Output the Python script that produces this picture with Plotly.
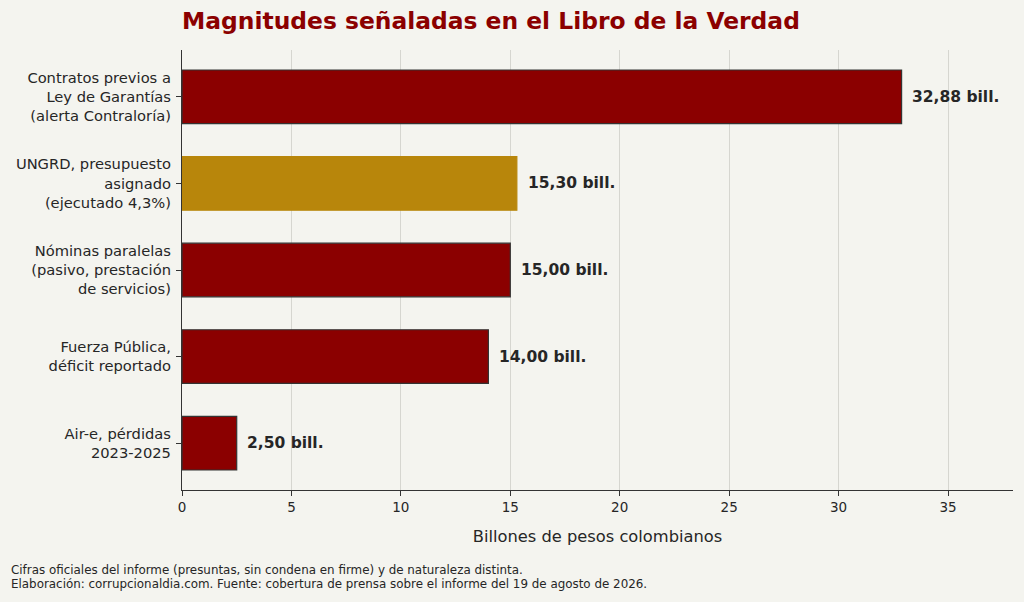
import plotly.graph_objects as go

# data, top to bottom as in the chart
categories = [
    "Contratos previos a<br>Ley de Garantías<br>(alerta Contraloría)",
    "UNGRD, presupuesto<br>asignado<br>(ejecutado 4,3%)",
    "Nóminas paralelas<br>(pasivo, prestación<br>de servicios)",
    "Fuerza Pública,<br>déficit reportado",
    "Air-e, pérdidas<br>2023-2025",
]
values = [32.88, 15.30, 15.00, 14.00, 2.50]
value_labels = ["32,88 bill.", "15,30 bill.", "15,00 bill.", "14,00 bill.", "2,50 bill."]
highlight = [False, True, False, False, False]
notes = [
    "Cifras oficiales del informe (presuntas, sin condena en firme) y de naturaleza distinta.",
    "Elaboración: corrupcionaldia.com. Fuente: cobertura de prensa sobre el informe del 19 de agosto de 2026.",
]

RED = "#8b0000"
GOLD = "#b8860b"
BG = "#f4f4ef"
INK = "#262626"
FONT = "DejaVu Sans"

# plot area in pixels (matches the reference axes box)
L, R, T, B = 182, 1013, 50, 490

colors = [GOLD if h else RED for h in highlight]
edges = [GOLD if h else "#333333" for h in highlight]

fig = go.Figure()
fig.add_trace(go.Bar(
    y=list(range(len(categories))), x=values, orientation="h", width=0.62,
    marker=dict(color=colors, line=dict(color=edges, width=1.2)),
    hoverinfo="x", showlegend=False))

# value labels just past each bar end
for i, (v, t) in enumerate(zip(values, value_labels)):
    fig.add_annotation(x=v + 0.4, y=i, xref="x", yref="y", text=f"<b>{t}</b>",
                       showarrow=False, xanchor="left", yanchor="middle",
                       font=dict(size=15.5, color=INK, family=FONT))

# footnote, one annotation per line to keep the tight spacing (paper coords = axes box)
for k, line in enumerate(notes):
    fig.add_annotation(x=(9 - L) / (R - L), y=(B - (570 + 14 * k)) / (B - T),
                       xref="paper", yref="paper", xanchor="left", yanchor="middle",
                       text=line, showarrow=False, font=dict(size=11.9, color=INK, family=FONT))

fig.update_layout(
    width=1024, height=602,
    paper_bgcolor=BG, plot_bgcolor=BG,
    font=dict(family=FONT, color=INK),
    title=dict(text="<b>Magnitudes señaladas en el Libro de la Verdad</b>",
               x=L / 1024, xanchor="left", y=1 - 21 / 602, yanchor="middle",
               font=dict(size=23.4, color=RED, family=FONT)),
    margin=dict(l=L, r=1024 - R, t=T, b=602 - B),
)
fig.update_xaxes(range=[0, 37.97], dtick=5, tick0=0, showgrid=True, gridcolor="#d6d6d0",
                 gridwidth=1, zeroline=False, showline=True, linecolor="#333333", linewidth=1.2,
                 ticks="outside", ticklen=5, tickcolor="#333333",
                 tickfont=dict(size=13.5, color=INK),
                 title=dict(text="Billones de pesos colombianos", standoff=16,
                            font=dict(size=16.3, color=INK)))
fig.update_yaxes(range=[4.541, -0.541], tickmode="array", tickvals=list(range(len(categories))),
                 ticktext=categories, showgrid=False, zeroline=False, showline=True,
                 linecolor="#333333", linewidth=1.2, ticks="outside", ticklen=5,
                 tickcolor="#333333", ticklabelstandoff=2, tickfont=dict(size=14.7, color=INK))

# the page is photographed at exactly 1024x602, so drop the default body margin
fig.write_html("out.html", config={"displayModeBar": False},
               post_script="document.body.style.margin='0';")
